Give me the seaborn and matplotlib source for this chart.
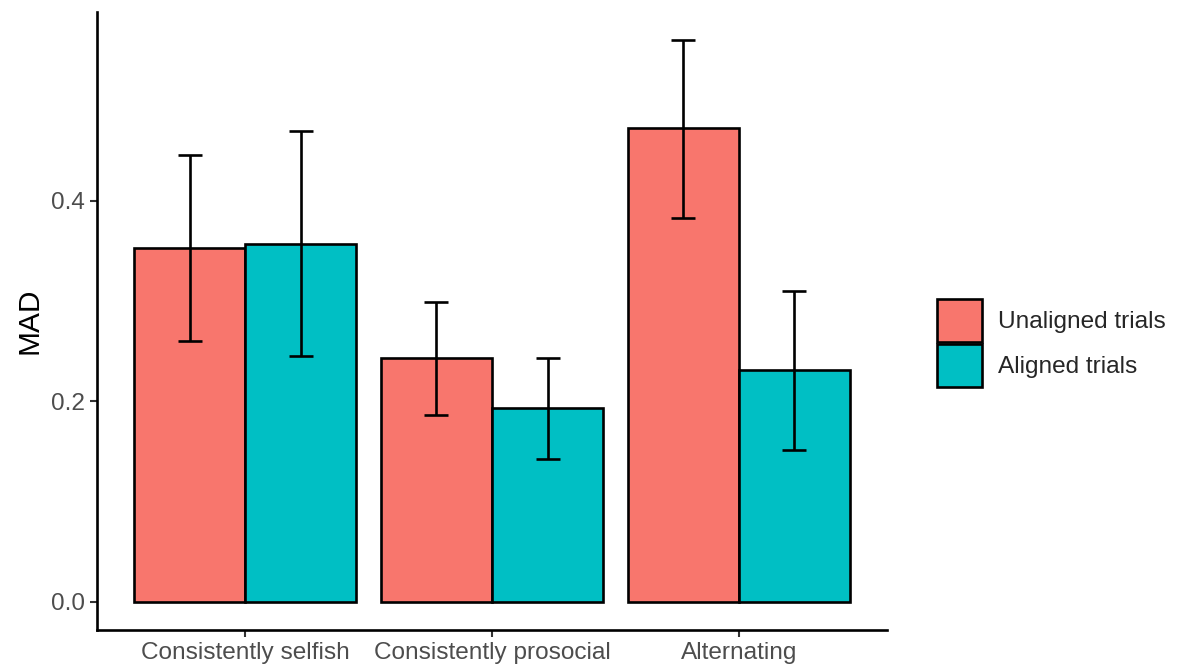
import matplotlib
matplotlib.use("Agg")
import matplotlib.pyplot as plt
import seaborn as sns
import pandas as pd

# Mean absolute deviation by partner strategy and trial type
strategies = ["Consistently selfish", "Consistently prosocial", "Alternating"]
trial_types = ["Unaligned trials", "Aligned trials"]
mad_unaligned = [0.353, 0.243, 0.472]
mad_aligned = [0.357, 0.193, 0.231]
lower_unaligned = [0.260, 0.186, 0.383]
upper_unaligned = [0.445, 0.299, 0.560]
lower_aligned = [0.245, 0.142, 0.151]
upper_aligned = [0.469, 0.243, 0.310]
palette = ["#F8766D", "#00BFC4"]

df = pd.DataFrame({
    "strategy": strategies * 2,
    "trial": [trial_types[0]] * 3 + [trial_types[1]] * 3,
    "MAD": mad_unaligned + mad_aligned,
    "lo": lower_unaligned + lower_aligned,
    "hi": upper_unaligned + upper_aligned,
})

sns.set_theme(style="white")
plt.rcParams["font.family"] = ["Liberation Sans", "DejaVu Sans"]

LW = 1.9

fig = plt.figure(figsize=(11.77, 6.68), dpi=100)
ax = fig.add_axes([97 / 1177, 1 - 630 / 668, (887 - 97) / 1177, (630 - 12) / 668])

sns.barplot(data=df, x="strategy", y="MAD", hue="trial", order=strategies,
            hue_order=trial_types, palette=palette, width=0.9, gap=0,
            errorbar=None, edgecolor="black", linewidth=LW, saturation=1,
            ax=ax, zorder=2)

# Error bars placed at the centre of each drawn bar
bars = [p for p in ax.patches if p.get_height() > 0 and p.get_width() < 1]
for p in bars:
    xc = p.get_x() + p.get_width() / 2
    h = p.get_height()
    row = df[(df["MAD"] - h).abs() < 1e-9].iloc[0]
    ax.errorbar(xc, h, yerr=[[h - row["lo"]], [row["hi"] - h]], fmt="none",
                ecolor="black", elinewidth=LW, capsize=8.9, capthick=LW,
                zorder=3)

ax.set_xlim(-0.6, 2.6)
ax.set_ylim(-0.028, 0.588)
ax.set_yticks([0.0, 0.2, 0.4])
ax.set_yticklabels(["0.0", "0.2", "0.4"])
ax.set_xlabel("")
ax.set_ylabel("MAD", fontsize=21.5, color="black", labelpad=5)

for side in ["top", "right"]:
    ax.spines[side].set_visible(False)
for side in ["left", "bottom"]:
    ax.spines[side].set_color("black")
    ax.spines[side].set_linewidth(LW)
ax.tick_params(axis="both", which="both", length=5, width=1.5, color="#333333",
               labelsize=17.6, labelcolor="#4D4D4D", direction="out",
               left=True, bottom=True, pad=4)

handles, labels = ax.get_legend_handles_labels()
for hnd in handles:
    hnd.set_edgecolor("black")
    hnd.set_linewidth(LW)
ax.legend(handles, labels, loc="center left",
          bbox_to_anchor=(1.051, (630 - 343) / (630 - 12)),
          frameon=False, fontsize=17.6, handlelength=1.85, handleheight=2.3,
          labelspacing=0.12, handletextpad=0.65, borderaxespad=0)

fig.savefig("out.png", dpi=100)
